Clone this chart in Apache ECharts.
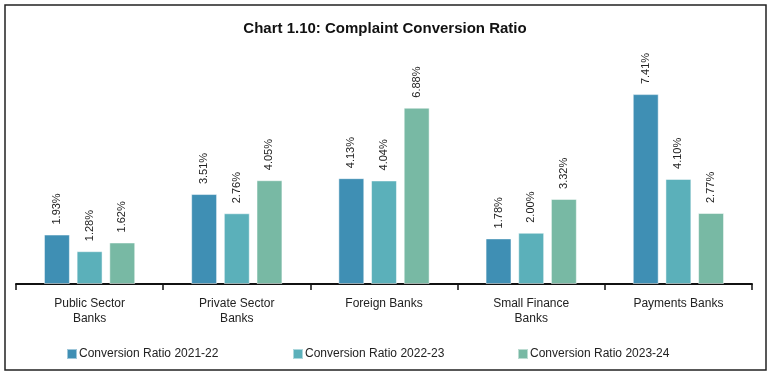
<!DOCTYPE html>
<html>
<head>
<meta charset="utf-8">
<script src="https://cdn.jsdelivr.net/npm/echarts@6/dist/echarts.min.js"></script>
<style>
  html, body { margin: 0; padding: 0; background: #fff; }
  #chart { width: 770px; height: 375px; }
</style>
</head>
<body>
<div id="chart"></div>
<script>
// categories and series values (%)
const categories = ['Public Sector\nBanks', 'Private Sector\nBanks', 'Foreign Banks', 'Small Finance\nBanks', 'Payments Banks']
const seriesNames = ['Conversion Ratio 2021-22', 'Conversion Ratio 2022-23', 'Conversion Ratio 2023-24']
const ratio2122 = [1.93, 3.51, 4.13, 1.78, 7.41]
const ratio2223 = [1.28, 2.76, 4.04, 2.00, 4.10]
const ratio2324 = [1.62, 4.05, 6.88, 3.32, 2.77]
const colors = ['#3f8fb4', '#5bb0ba', '#78b9a4']

const chart = echarts.init(document.getElementById('chart'))

const makeSeries = (name, data, color) => ({
  name: name,
  type: 'bar',
  data: data,
  barGap: '26%',
  barCategoryGap: '38%',
  itemStyle: { color: color, borderColor: 'rgba(255,255,255,0.5)', borderWidth: 1 },
  label: {
    show: true,
    position: 'top',
    rotate: 90,
    align: 'left',
    verticalAlign: 'middle',
    distance: 10,
    fontFamily: 'Liberation Sans, Arial, sans-serif',
    fontSize: 11,
    color: '#222',
    formatter: p => p.value.toFixed(2) + '%'
  }
})

const legendAt = (name, left) => ({
  data: [name],
  left: left,
  top: 343,
  itemWidth: 10,
  itemHeight: 10,
  itemGap: 0,
  icon: 'rect',
  textStyle: { fontFamily: 'Liberation Sans, Arial, sans-serif', fontSize: 12, color: '#222', padding: [0, 0, 0, -3] }
})

chart.setOption({
  animation: false,
  title: {
    text: 'Chart 1.10: Complaint Conversion Ratio',
    left: 'center',
    top: 16,
    textStyle: { fontFamily: 'Liberation Sans, Arial, sans-serif', fontSize: 15, fontWeight: 'bold', color: '#111' }
  },
  graphic: [{
    type: 'rect',
    shape: { x: 5, y: 5, width: 761, height: 365 },
    style: { fill: 'none', stroke: '#222', lineWidth: 1.5 },
    silent: true
  }],
  legend: [
    legendAt(seriesNames[0], 61),
    legendAt(seriesNames[1], 287),
    legendAt(seriesNames[2], 512)
  ],
  grid: { left: 16, right: 18, top: 79, bottom: 91 },
  xAxis: {
    type: 'category',
    data: categories,
    axisLine: { lineStyle: { color: '#111', width: 2 } },
    axisTick: { show: true, length: 6, lineStyle: { color: '#111', width: 1.5 } },
    axisLabel: {
      interval: 0,
      margin: 12,
      fontFamily: 'Liberation Sans, Arial, sans-serif',
      fontSize: 12,
      lineHeight: 15,
      color: '#222'
    }
  },
  yAxis: {
    type: 'value',
    min: 0,
    max: 8,
    show: false
  },
  series: [
    makeSeries(seriesNames[0], ratio2122, colors[0]),
    makeSeries(seriesNames[1], ratio2223, colors[1]),
    makeSeries(seriesNames[2], ratio2324, colors[2])
  ]
})
</script>
</body>
</html>
